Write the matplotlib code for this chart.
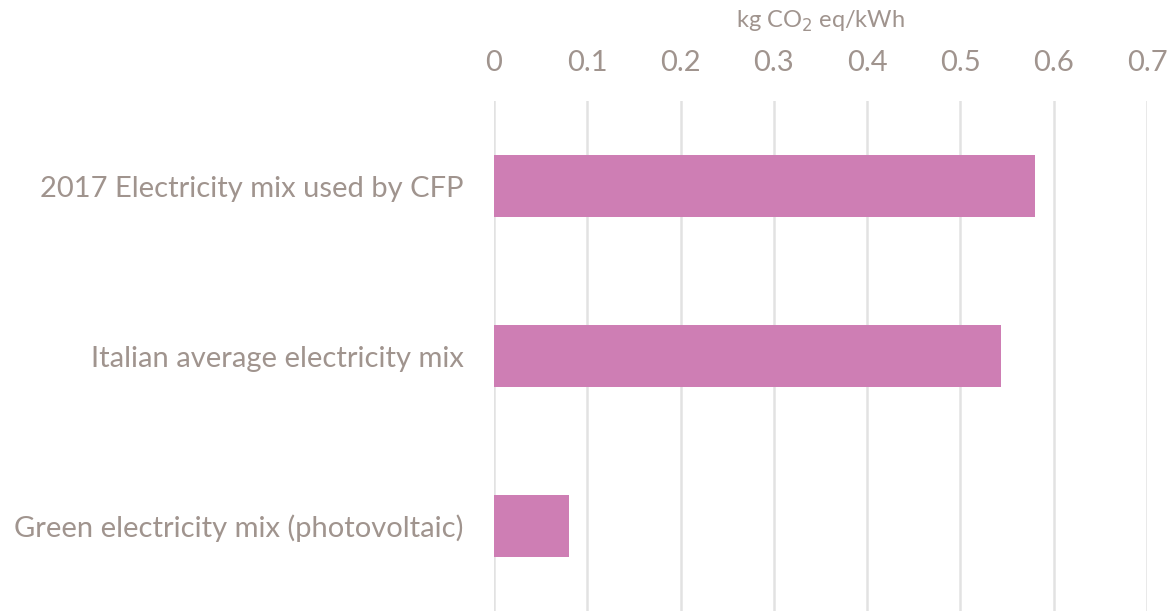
import matplotlib
matplotlib.use("Agg")
import matplotlib.pyplot as plt

categories = ["2017 Electricity mix used by CFP",
              "Italian average electricity mix",
              "Green electricity mix (photovoltaic)"]
values = [0.58, 0.544, 0.08]
ticks = [0, 0.1, 0.2, 0.3, 0.4, 0.5, 0.6, 0.7]

plt.rcParams['font.family'] = ['Lato', 'DejaVu Sans']
text_color = "#A0948E"

fig = plt.figure(figsize=(11.68, 6.11), dpi=100)
ax = fig.add_axes([494 / 1168, 0, (1147 - 494) / 1168, 510 / 611])

y = list(range(len(categories)))
ax.barh(y, values, height=0.36, color="#CE7EB4", zorder=3)
ax.set_ylim(len(categories) - 0.5, -0.5)
ax.set_xlim(0, 0.7)
ax.set_yticks(y)
ax.set_yticklabels(categories, fontsize=21, color=text_color)
ax.set_xticks(ticks)
ax.set_xticklabels([f"{t:g}" for t in ticks], fontsize=21, color=text_color)
ax.xaxis.tick_top()
ax.xaxis.set_label_position("top")
ax.set_xlabel("kg CO$_2$ eq/kWh", fontsize=17, color=text_color, labelpad=16)
ax.tick_params(axis="x", length=0, pad=18)
ax.tick_params(axis="y", length=0, pad=22)
ax.grid(axis="x", color="#E2E2E2", linewidth=1.8, zorder=0)
for s in ax.spines.values():
    s.set_visible(False)

fig.savefig("out.png", dpi=100)
